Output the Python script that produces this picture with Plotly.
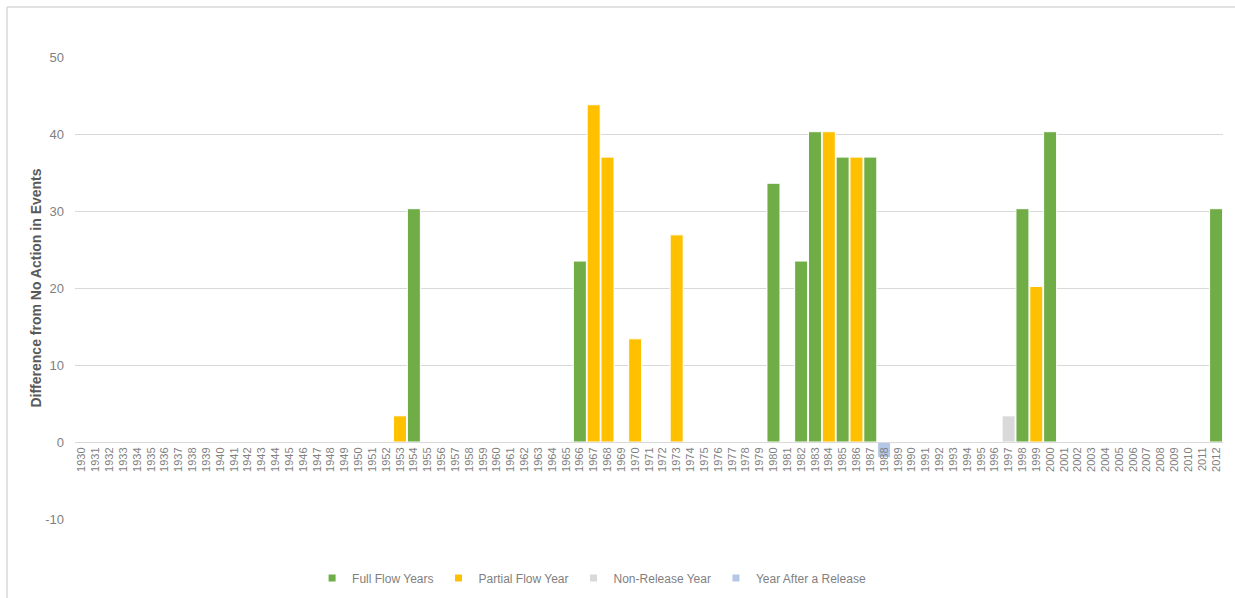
import plotly.graph_objects as go

# Water years shown on the category axis
years = [str(y) for y in range(1930, 2013)]

# Difference from No Action, by release type
full_flow_years = ["1954", "1966", "1980", "1982", "1983", "1985", "1987", "1998", "2000", "2012"]
full_flow_values = [30.3, 23.5, 33.6, 23.5, 40.3, 37.0, 37.0, 30.3, 40.3, 30.3]

partial_flow_years = ["1953", "1967", "1968", "1970", "1973", "1984", "1986", "1999"]
partial_flow_values = [3.4, 43.8, 37.0, 13.4, 26.9, 40.3, 37.0, 20.2]

non_release_years = ["1997"]
non_release_values = [3.4]

after_release_years = ["1988"]
after_release_values = [-2.0]

# y-axis ticks (plain hyphen for negatives)
y_ticks = [-10, 0, 10, 20, 30, 40, 50]
y_tick_labels = ["-10", "0", "10", "20", "30", "40", "50"]

series = [
    ("Full Flow Years", full_flow_years, full_flow_values, "#70ad47"),
    ("Partial Flow Year", partial_flow_years, partial_flow_values, "#ffc000"),
    ("Non-Release Year", non_release_years, non_release_values, "#d9d9d9"),
    ("Year After a Release", after_release_years, after_release_values, "#b4c7e7"),
]

SANS = "Liberation Sans, Arial, sans-serif"
TEXT_GREY = "#7f7f7f"
GRID = "#d9d9d9"

fig = go.Figure()
for name, xs, ys, color in series:
    fig.add_trace(go.Bar(
        x=xs, y=ys, name=name, showlegend=False,
        marker=dict(color=color, line=dict(color="white", width=1)),
    ))
# small square legend keys
for name, xs, ys, color in series:
    fig.add_trace(go.Scatter(
        x=[None], y=[None], mode="markers", name=name,
        marker=dict(symbol="square", size=7, color=color),
    ))

W, H = 1235, 598
L, R, T, B = 75, 12, 57, 79
pw, ph = W - L - R, H - T - B

def px_x(x):
    return (x - L) / pw

def px_y(y):
    return (H - B - y) / ph

y_min, y_max = -10, 50

fig.update_layout(
    width=W, height=H,
    margin=dict(l=L, r=R, t=T, b=B, autoexpand=False),
    paper_bgcolor="white", plot_bgcolor="white",
    barmode="overlay", bargap=0.06,
    showlegend=True,
    legend=dict(
        orientation="h", x=0.45, xanchor="center", y=px_y(578), yanchor="middle",
        font=dict(family=SANS, size=12, color=TEXT_GREY),
        itemwidth=30, tracegroupgap=0,
    ),
    xaxis=dict(
        type="category", categoryorder="array", categoryarray=years,
        range=[-0.5, len(years) - 0.5],
        anchor="free", position=(0 - y_min) / (y_max - y_min),
        showline=True, linecolor=GRID, linewidth=1,
        showgrid=False, ticks="", tickangle=-90,
        tickfont=dict(family=SANS, size=11, color=TEXT_GREY),
    ),
    yaxis=dict(
        range=[y_min, y_max], tickmode="array",
        tickvals=y_ticks, ticktext=y_tick_labels,
        showgrid=True, gridcolor=GRID, gridwidth=1,
        zeroline=True, zerolinecolor=GRID, zerolinewidth=1,
        ticks="", ticklabelstandoff=10,
        tickfont=dict(family=SANS, size=13, color=TEXT_GREY),
        title=dict(
            text="<b>Difference from No Action in Events</b>",
            font=dict(family=SANS, size=14, color="#595959"),
            standoff=0,
        ),
    ),
    shapes=[
        dict(type="line", xref="paper", yref="paper",
             x0=px_x(7), x1=px_x(W + 5), y0=px_y(7), y1=px_y(7),
             line=dict(color=GRID, width=1.5)),
        dict(type="line", xref="paper", yref="paper",
             x0=px_x(7), x1=px_x(7), y0=px_y(7), y1=px_y(H + 5),
             line=dict(color=GRID, width=1.5)),
    ],
)

fig.write_html("out.html")
